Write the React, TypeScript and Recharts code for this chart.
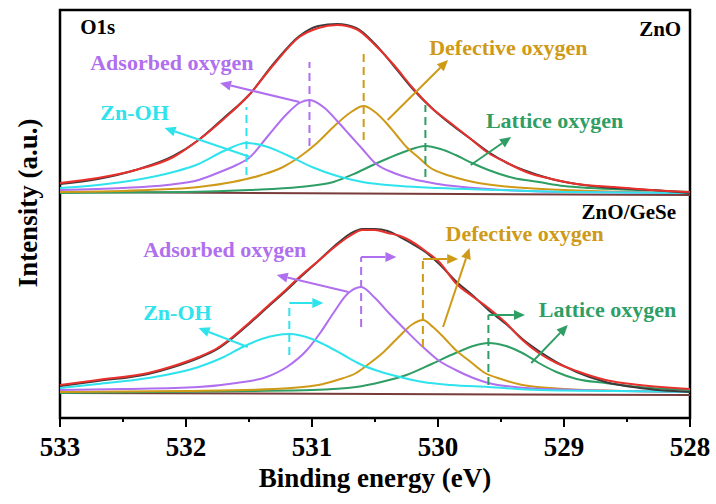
import { LineChart, Line, XAxis, YAxis, ReferenceLine, ReferenceDot, ReferenceArea } from "recharts";

const FONT = '"Liberation Serif", "Times New Roman", serif';

// [binding energy (eV), intensity above the panel background]
const znoRaw: [number, number][] = [[533.0,10],[532.7,15],[532.4,24],[532.1,38],[531.9,54],[531.7,76],[531.5,99],[531.3,131],[531.1,158],[530.95,168],[530.8,170],[530.65,166],[530.5,150],[530.35,128],[530.2,105],[530.05,86],[529.9,70],[529.75,56],[529.6,42],[529.45,31],[529.3,23],[529.1,15],[528.9,10],[528.6,6],[528.3,4],[528.0,1]];
const znoFit: [number, number][] = [[533.0,11],[532.7,16],[532.4,24],[532.1,37],[531.9,54],[531.7,75],[531.5,99],[531.3,130],[531.1,157],[530.95,166],[530.8,169],[530.65,165],[530.5,149],[530.35,129],[530.2,106],[530.05,86],[529.9,71],[529.75,56],[529.6,41],[529.45,31],[529.3,22],[529.1,15],[528.9,10],[528.6,7],[528.3,4],[528.0,2]];
const znoZnOH: [number, number][] = [[533.0,6],[532.7,9],[532.4,14],[532.1,22],[531.9,30],[531.7,43],[531.52,51],[531.35,47],[531.2,39],[531.0,27],[530.8,18],[530.6,12],[530.3,8],[530.0,6],[529.5,4],[529.0,2],[528.0,1]];
const znoAdsorbed: [number, number][] = [[533.0,4],[532.5,6],[532.15,9],[531.9,14],[531.75,21],[531.6,29],[531.5,36],[531.35,58],[531.2,80],[531.1,91],[531.02,94],[530.9,86],[530.8,73],[530.7,59],[530.6,45],[530.5,31],[530.35,21],[530.2,15],[530.0,10],[529.6,5],[529.0,2],[528.0,1]];
const znoDefective: [number, number][] = [[533.0,2],[532.3,4],[531.9,7],[531.63,12],[531.4,19],[531.23,27],[531.1,37],[530.96,51],[530.83,67],[530.7,81],[530.59,88],[530.5,82],[530.41,71],[530.33,59],[530.25,47],[530.15,36],[530.07,27],[529.9,18],[529.72,12],[529.5,8],[529.3,6],[529.0,4],[528.5,2],[528.0,1]];
const znoLattice: [number, number][] = [[533.0,1],[532.0,2],[531.5,4],[531.1,7],[530.83,12],[530.65,21],[530.5,30],[530.39,36],[530.25,43],[530.1,48],[529.98,45],[529.86,39],[529.73,31],[529.6,24],[529.4,16],[529.2,12],[529.0,8],[528.8,6],[528.4,4],[528.0,2]];
const znoBackground: [number, number][] = [[533.0,2],[528.0,-1]];

const geseRaw: [number, number][] = [[533.0,8],[532.7,13],[532.3,20],[532.1,27],[531.9,36],[531.75,45],[531.63,56],[531.5,70],[531.36,86],[531.2,104],[531.1,116],[530.95,133],[530.83,147],[530.7,160],[530.6,165],[530.5,165],[530.4,163],[530.3,157],[530.23,152],[530.1,142],[529.99,130],[529.86,113],[529.72,98],[529.6,84],[529.46,70],[529.33,55],[529.2,43],[529.06,32],[528.9,22],[528.67,12],[528.4,6],[528.0,2]];
const geseFit: [number, number][] = [[533.0,9],[532.7,14],[532.3,21],[532.1,28],[531.9,37],[531.75,46],[531.63,57],[531.5,71],[531.36,87],[531.2,105],[531.1,117],[530.95,133],[530.83,146],[530.7,158],[530.6,164],[530.5,164],[530.4,161],[530.3,158],[530.23,154],[530.1,143],[529.99,132],[529.86,111],[529.72,97],[529.6,86],[529.46,71],[529.33,54],[529.2,41],[529.06,31],[528.9,23],[528.67,14],[528.4,9],[528.0,5]];
const geseZnOH: [number, number][] = [[533.0,6],[532.7,10],[532.3,16],[531.9,27],[531.7,37],[531.55,47],[531.4,55],[531.18,60],[531.0,55],[530.88,48],[530.75,39],[530.62,30],[530.45,22],[530.3,17],[530.12,12],[529.9,9],[529.6,7],[529.2,4],[528.6,3],[528.0,2]];
const geseAdsorbed: [number, number][] = [[533.0,4],[532.5,5],[531.9,7],[531.6,11],[531.36,17],[531.2,27],[531.04,44],[530.93,62],[530.83,81],[530.72,100],[530.61,107],[530.5,96],[530.39,81],[530.25,63],[530.12,47],[530.0,34],[529.86,24],[529.72,16],[529.6,11],[529.3,6],[528.9,4],[528.0,2]];
const geseDefective: [number, number][] = [[533.0,2],[532.0,3],[531.3,5],[530.95,9],[530.8,14],[530.65,21],[530.55,30],[530.44,41],[530.32,56],[530.2,70],[530.12,74],[530.04,67],[529.95,56],[529.86,44],[529.75,33],[529.64,22],[529.5,15],[529.33,9],[529.0,5],[528.5,3],[528.0,2]];
const geseLattice: [number, number][] = [[533.0,1],[531.5,3],[531.0,4],[530.65,7],[530.45,12],[530.25,19],[530.05,30],[529.86,41],[529.72,48],[529.6,51],[529.46,48],[529.33,41],[529.2,31],[529.06,22],[528.9,15],[528.67,11],[528.4,7],[528.0,4]];
const geseBackground: [number, number][] = [[533.0,1],[528.0,-1]];

const energyTicks = [533, 532.5, 532, 531.5, 531, 530.5, 530, 529.5, 529, 528.5, 528];

type Part = "znoh" | "ads" | "def" | "lat";
const partNames: Record<Part, string> = {
  znoh: "Zn-OH",
  ads: "Adsorbed oxygen",
  def: "Defective oxygen",
  lat: "Lattice oxygen",
};

// peak markers: energy, dashed span; GeSe panel also gets the shift arrow end
const znoPeaks = [
  { part: "znoh" as Part, e: 531.52, lo: 19, hi: 87 },
  { part: "ads" as Part, e: 531.02, lo: 48, hi: 132 },
  { part: "def" as Part, e: 530.59, lo: 54, hi: 141 },
  { part: "lat" as Part, e: 530.1, lo: 17, hi: 89 },
];
const gesePeaks = [
  { part: "znoh" as Part, e: 531.18, lo: 39, hi: 91, to: 530.91 },
  { part: "ads" as Part, e: 530.61, lo: 67, hi: 137, to: 530.33 },
  { part: "def" as Part, e: 530.12, lo: 47, hi: 135, to: 529.84 },
  { part: "lat" as Part, e: 529.6, lo: 9, hi: 79, to: 529.31 },
];

// label arrows and label anchors
const znoPointers = [
  { part: "ads" as Part, from: [531.1, 92], to: [531.73, 111] },
  { part: "znoh" as Part, from: [531.49, 37], to: [532.17, 66] },
  { part: "def" as Part, from: [530.4, 74], to: [529.92, 134] },
  { part: "lat" as Part, from: [529.74, 29], to: [529.42, 57] },
];
const gesePointers = [
  { part: "ads" as Part, from: [530.71, 102], to: [531.28, 119] },
  { part: "znoh" as Part, from: [531.51, 47], to: [531.9, 66] },
  { part: "def" as Part, from: [529.96, 67], to: [529.75, 146] },
  { part: "lat" as Part, from: [529.26, 31], to: [528.97, 69] },
];
const znoLabels = [
  { part: "ads" as Part, e: 532.76, h: 124 },
  { part: "znoh" as Part, e: 532.68, h: 74 },
  { part: "def" as Part, e: 530.07, h: 139 },
  { part: "lat" as Part, e: 529.62, h: 66 },
];
const geseLabels = [
  { part: "ads" as Part, e: 532.34, h: 137 },
  { part: "znoh" as Part, e: 532.34, h: 74 },
  { part: "def" as Part, e: 529.94, h: 153 },
  { part: "lat" as Part, e: 529.2, h: 77 },
];

const TOP_BASE = 224;
const BOTTOM_BASE = 24;
const Y_MAX = 408;

const colors: Record<Part | "raw" | "fit" | "bg", string> = {
  raw: "#3b3b3b",
  fit: "#e8302c",
  znoh: "#2fe3ec",
  ads: "#b06fee",
  def: "#cf9a17",
  lat: "#2f9e64",
  bg: "#7a3b3b",
};

const toRows = (pts: [number, number][], base: number) => pts.map(([e, v]) => ({ e, v: v + base }));

const panels = [
  {
    base: TOP_BASE,
    series: [
      { key: "bg", pts: znoBackground },
      { key: "lat", pts: znoLattice },
      { key: "def", pts: znoDefective },
      { key: "ads", pts: znoAdsorbed },
      { key: "znoh", pts: znoZnOH },
      { key: "raw", pts: znoRaw },
      { key: "fit", pts: znoFit },
    ],
    peaks: znoPeaks as { part: Part; e: number; lo: number; hi: number; to?: number }[],
    pointers: znoPointers,
    labels: znoLabels,
  },
  {
    base: BOTTOM_BASE,
    series: [
      { key: "bg", pts: geseBackground },
      { key: "lat", pts: geseLattice },
      { key: "def", pts: geseDefective },
      { key: "ads", pts: geseAdsorbed },
      { key: "znoh", pts: geseZnOH },
      { key: "raw", pts: geseRaw },
      { key: "fit", pts: geseFit },
    ],
    peaks: gesePeaks as { part: Part; e: number; lo: number; hi: number; to?: number }[],
    pointers: gesePointers,
    labels: geseLabels,
  },
];

function arrowShape(color: string) {
  return (p: any) => {
    const { x1, y1, x2, y2 } = p;
    const ang = Math.atan2(y2 - y1, x2 - x1);
    const len = 11;
    const half = 5;
    const bx = x2 - len * Math.cos(ang);
    const by = y2 - len * Math.sin(ang);
    const px = -Math.sin(ang) * half;
    const py = Math.cos(ang) * half;
    return (
      <g>
        <line x1={x1} y1={y1} x2={bx} y2={by} stroke={color} strokeWidth={2} />
        <polygon points={`${x2},${y2} ${bx + px},${by + py} ${bx - px},${by - py}`} fill={color} />
      </g>
    );
  };
}

function textShape(text: string, color: string, size: number, anchor: "start" | "end" = "start") {
  return (p: any) => (
    <text x={p.cx} y={p.cy} fill={color} fontSize={size} fontWeight="bold" fontFamily={FONT} textAnchor={anchor}>
      {text}
    </text>
  );
}

function EnergyTick(props: any) {
  const { x, y, payload } = props;
  const major = Number.isInteger(payload.value);
  return (
    <g>
      <line x1={x} x2={x} y1={y} y2={y + (major ? 9 : 4)} stroke="#000" strokeWidth={2} />
      {major && (
        <text x={x} y={y + 38} textAnchor="middle" fontSize={27} fontWeight="bold" fontFamily={FONT} fill="#000">
          {payload.value}
        </text>
      )}
    </g>
  );
}

export default function App() {
  return (
    <div style={{ position: "absolute", left: 0, top: 0, width: 716, height: 504, background: "#fff" }}>
      <LineChart width={716} height={504} margin={{ top: 10, right: 26, bottom: 0, left: 0 }}>
        <XAxis
          dataKey="e"
          type="number"
          domain={[528, 533]}
          reversed
          ticks={energyTicks}
          interval={0}
          allowDataOverflow
          height={86}
          axisLine={false}
          tickLine={false}
          tickSize={0}
          tickMargin={0}
          tick={<EnergyTick />}
          label={{
            value: "Binding energy (eV)",
            position: "insideBottom",
            offset: 17,
            fill: "#000",
            fontSize: 27,
            fontWeight: "bold",
            fontFamily: FONT,
          }}
        />
        <YAxis
          type="number"
          domain={[0, Y_MAX]}
          allowDataOverflow
          width={60}
          axisLine={false}
          tickLine={false}
          tick={false}
          label={{
            content: () => (
              <text
                x={37}
                y={203}
                transform="rotate(-90 37 203)"
                textAnchor="middle"
                fontSize={27}
                fontWeight="bold"
                fontFamily={FONT}
                fill="#000"
              >
                Intensity (a.u.)
              </text>
            ),
          }}
        />

        {panels.map((panel, pi) =>
          panel.series.map((s) => (
            <Line
              key={`l-${pi}-${s.key}`}
              data={toRows(s.pts, panel.base)}
              dataKey="v"
              type="monotone"
              stroke={colors[s.key as keyof typeof colors]}
              strokeWidth={2}
              dot={false}
              activeDot={false}
              isAnimationActive={false}
            />
          ))
        )}

        {panels.map((panel, pi) =>
          panel.peaks.map((pk) => (
            <ReferenceLine
              key={`d-${pi}-${pk.part}`}
              segment={[
                { x: pk.e, y: pk.lo + panel.base },
                { x: pk.e, y: pk.hi + panel.base },
              ]}
              stroke={colors[pk.part]}
              strokeWidth={2}
              strokeDasharray="8 5"
            />
          ))
        )}

        {gesePeaks.map((pk) => (
          <ReferenceLine
            key={`s-${pk.part}`}
            segment={[
              { x: pk.e, y: pk.hi + BOTTOM_BASE },
              { x: pk.to, y: pk.hi + BOTTOM_BASE },
            ]}
            shape={arrowShape(colors[pk.part])}
          />
        ))}

        {panels.map((panel, pi) =>
          panel.pointers.map((pt) => (
            <ReferenceLine
              key={`p-${pi}-${pt.part}`}
              segment={[
                { x: pt.from[0], y: pt.from[1] + panel.base },
                { x: pt.to[0], y: pt.to[1] + panel.base },
              ]}
              shape={arrowShape(colors[pt.part])}
            />
          ))
        )}

        {panels.map((panel, pi) =>
          panel.labels.map((lb) => (
            <ReferenceDot
              key={`t-${pi}-${lb.part}`}
              x={lb.e}
              y={lb.h + panel.base}
              r={0}
              shape={textShape(partNames[lb.part], colors[lb.part], 22)}
            />
          ))
        )}

        <ReferenceDot x={532.84} y={160 + TOP_BASE} r={0} shape={textShape("O1s", "#000", 21)} />
        <ReferenceDot x={528.07} y={158 + TOP_BASE} r={0} shape={textShape("ZnO", "#000", 21, "end")} />
        <ReferenceDot x={528.11} y={175 + BOTTOM_BASE} r={0} shape={textShape("ZnO/GeSe", "#000", 21, "end")} />

        <ReferenceArea x1={533} x2={528} y1={0} y2={Y_MAX} fill="none" fillOpacity={0} stroke="#000" strokeWidth={2.5} />
      </LineChart>
    </div>
  );
}
